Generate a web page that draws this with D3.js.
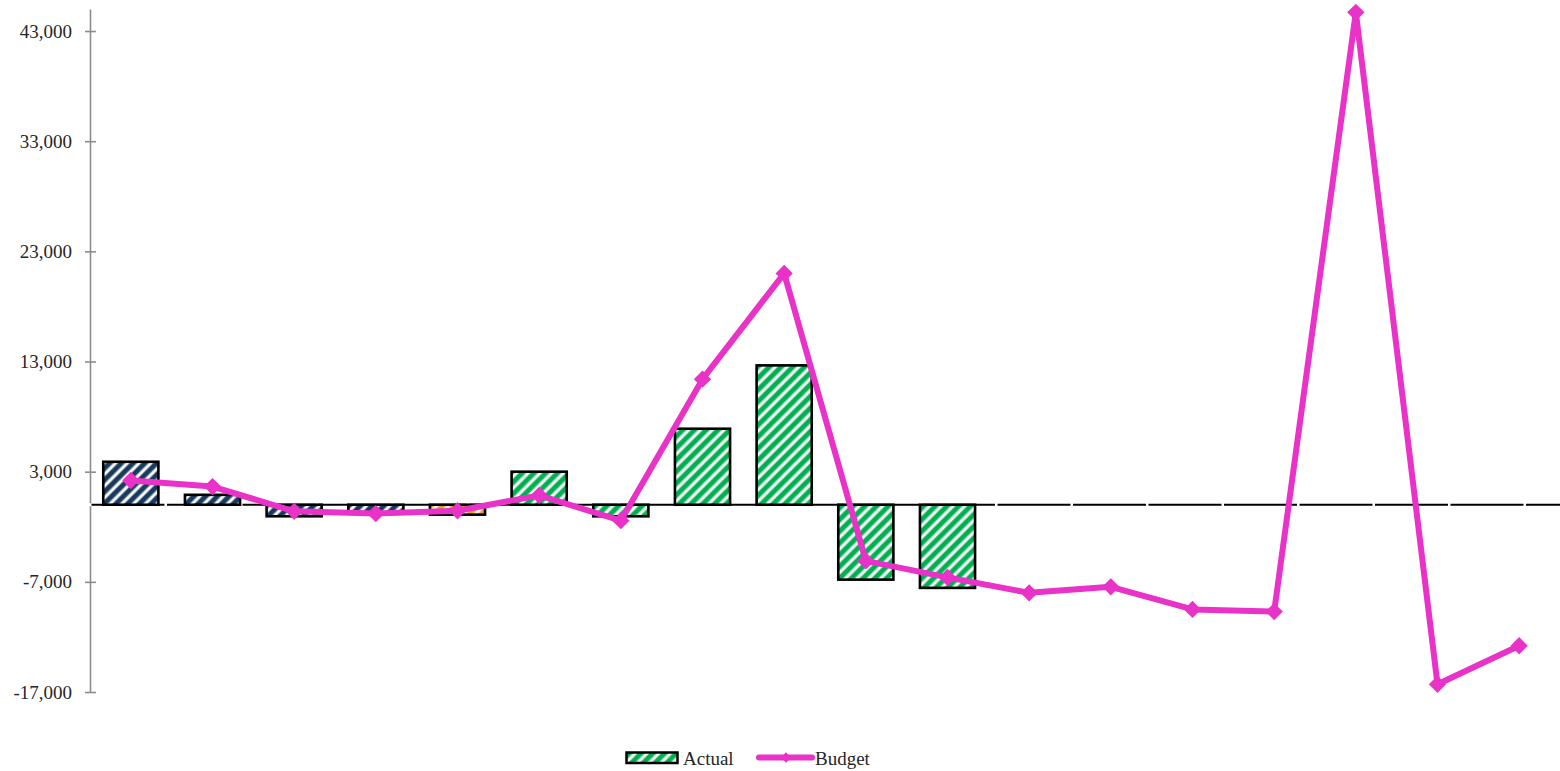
<!DOCTYPE html>
<html>
<head>
<meta charset="utf-8">
<script src="https://cdn.jsdelivr.net/npm/d3@7"></script>
<style>
  html, body { margin: 0; padding: 0; background: #fff; }
  svg { display: block; }
  text { font-family: "Liberation Serif", "Times New Roman", serif; }
</style>
</head>
<body>
<svg id="chart" width="1560" height="771"></svg>
<script>
const categories = ["P1","P2","P3","P4","P5","P6","P7","P8","P9","P10","P11","P12","P13","P14","P15","P16","P17","P18"];
const actual = [3900, 900, -1050, -700, -900, 3000, -1050, 6900, 12650, -6800, -7550, null, null, null, null, null, null, null];
const budget = [2200, 1650, -600, -800, -550, 850, -1450, 11400, 21000, -5100, -6600, -8000, -7450, -9500, -9700, 44700, -16300, -12800];
const barColorKeys = ["navy","navy","navy","navy","orange","green","green","green","green","green","green","green","green","green","green","green","green","green"];
const yTicks = [-17000, -7000, 3000, 13000, 23000, 33000, 43000];
const seriesNames = ["Actual", "Budget"];

const svg = d3.select("#chart");
const defs = svg.append("defs");
const baseColors = { navy: "#173a5e", orange: "#f0a21c", green: "#00b050" };
const P = 8.3;
Object.entries(baseColors).forEach(([k, c]) => {
  const p = defs.append("pattern")
    .attr("id", "hatch-" + k)
    .attr("patternUnits", "userSpaceOnUse")
    .attr("width", P).attr("height", P)
    .attr("patternTransform", "rotate(45)");
  p.append("rect").attr("width", P).attr("height", P).attr("fill", c);
  p.append("rect").attr("x", 0.5).attr("width", 4).attr("height", P).attr("fill", "#fff").attr("opacity", 0.5);
  p.append("rect").attr("x", 1.3).attr("width", 2.4).attr("height", P).attr("fill", "#fff");
});

const x = d3.scaleBand().domain(categories).range([90, 1560]).paddingInner(0).paddingOuter(0);
const y = d3.scaleLinear().domain([-17000, 45000]).range([692, 9]);
const barW = x.bandwidth() * 0.675;
const cx = d => x(d) + x.bandwidth() / 2;

// zero line (dashed horizontal axis)
svg.append("line")
  .attr("x1", 91.5).attr("x2", 1560)
  .attr("y1", y(0)).attr("y2", y(0))
  .attr("stroke", "#000").attr("stroke-width", 2)
  .attr("stroke-dasharray", "73,2.5");

// bars
const barData = categories.map((c, i) => ({ c, v: actual[i], k: barColorKeys[i] })).filter(d => d.v !== null);
svg.append("g").selectAll("rect").data(barData).join("rect")
  .attr("x", d => cx(d.c) - barW / 2)
  .attr("width", barW)
  .attr("y", d => y(Math.max(0, d.v)))
  .attr("height", d => Math.abs(y(d.v) - y(0)))
  .attr("fill", d => "url(#hatch-" + d.k + ")")
  .attr("stroke", "#000").attr("stroke-width", 2.6);

// y axis
const loc = d3.formatLocale({ decimal: ".", thousands: ",", grouping: [3], currency: ["", ""], minus: "-" });
const yAxis = d3.axisLeft(y).tickValues(yTicks).tickFormat(loc.format(",")).tickSizeInner(5).tickSizeOuter(0).tickPadding(13);
const gy = svg.append("g").attr("transform", "translate(90,0)").call(yAxis);
gy.select(".domain").attr("stroke", "#8c8c8c").attr("stroke-width", 1.6);
gy.selectAll(".tick line").attr("stroke", "#8c8c8c").attr("stroke-width", 1.6).attr("x1", 6);
gy.selectAll(".tick text").attr("font-size", 19).attr("fill", "#262626")
  .style("font-family", "'Liberation Serif', serif");
svg.append("line").attr("x1", 90).attr("x2", 90).attr("y1", y(0) - 1.5).attr("y2", y(0) + 1.5)
  .attr("stroke", "#fff").attr("stroke-width", 2);

// budget line
const lineColor = "#e832c8";
const line = d3.line().x((d, i) => cx(categories[i])).y(d => y(d));
svg.append("path").datum(budget)
  .attr("d", line)
  .attr("fill", "none").attr("stroke", lineColor).attr("stroke-width", 6)
  .attr("stroke-linejoin", "round").attr("stroke-linecap", "round");
svg.append("g").selectAll("path").data(budget).join("path")
  .attr("d", d3.symbol().type(d3.symbolSquare).size(150))
  .attr("transform", (d, i) => `translate(${cx(categories[i])},${y(d)}) rotate(45)`)
  .attr("fill", lineColor);

// legend
const lg = svg.append("g");
lg.append("rect").attr("x", 626.5).attr("y", 752.5).attr("width", 51).attr("height", 10.5)
  .attr("fill", "url(#hatch-green)").attr("stroke", "#000").attr("stroke-width", 2.5);
lg.append("text").attr("x", 683).attr("y", 765).attr("font-size", 19).attr("fill", "#262626").text(seriesNames[0]);
lg.append("line").attr("x1", 759).attr("x2", 812).attr("y1", 757.5).attr("y2", 757.5)
  .attr("stroke", lineColor).attr("stroke-width", 6).attr("stroke-linecap", "round");
lg.append("path").attr("d", d3.symbol().type(d3.symbolSquare).size(55))
  .attr("transform", "translate(786,757.5) rotate(45)").attr("fill", lineColor);
lg.append("text").attr("x", 815).attr("y", 765).attr("font-size", 19).attr("fill", "#262626").text(seriesNames[1]);
</script>
</body>
</html>
